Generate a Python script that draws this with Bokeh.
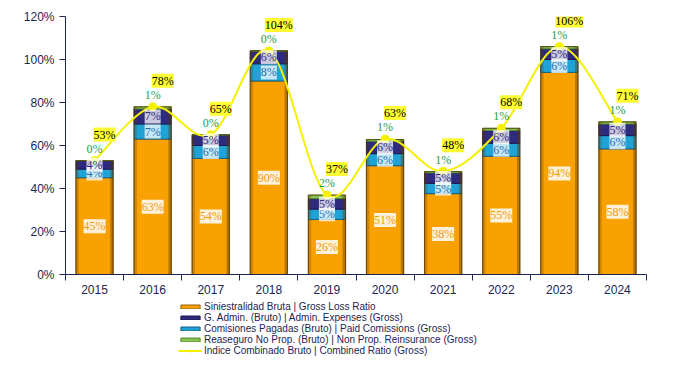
from bokeh.plotting import figure
from bokeh.layouts import column
from bokeh.models import (ColumnDataSource, Range1d, FixedTicker, LabelSet,
                          Legend, LegendItem, PrintfTickFormatter)
from bokeh.transform import dodge
from bokeh.embed import file_html
from bokeh.resources import INLINE

years = ["2015", "2016", "2017", "2018", "2019", "2020", "2021", "2022", "2023", "2024"]
loss = [45.0, 63.0, 54.0, 90.0, 25.6, 50.6, 37.6, 55.0, 94.0, 58.4]
commissions = [4.0, 7.0, 6.0, 8.0, 4.8, 5.6, 4.8, 6.0, 6.0, 6.2]
admin = [4.0, 7.0, 5.0, 6.0, 4.9, 5.8, 4.9, 6.0, 5.0, 5.4]
reinsurance = [0.0, 1.0, 0.0, 0.0, 1.6, 0.8, 0.6, 1.0, 1.0, 1.0]
combined = [53, 78, 65, 104, 37, 63, 48, 68, 106, 71]
y_ticks = [0, 20, 40, 60, 80, 100, 120]
legend_labels = [
    "Siniestralidad Bruta | Gross Loss Ratio",
    "G. Admin. (Bruto) | Admin. Expenses (Gross)",
    "Comisiones Pagadas (Bruto) | Paid Comissions (Gross)",
    "Reaseguro No Prop. (Bruto) | Non Prop. Reinsurance (Gross)",
    "Indice Combinado Bruto | Combined Ratio (Gross)",
]

FONT = "Liberation Sans"
NAVY = "#1B2552"
C_LOSS = "#F9A100"
C_ADMIN = "#2E2A7E"
C_COMM = "#1FA3D6"
C_REIN = "#86C34F"
C_LINE = "#F4F000"
E_LOSS, E_COMM, E_ADMIN, E_REIN = "#9A6200", "#14608A", "#1A184F", "#5A8A30"

n = len(years)
xs = list(range(n))
s1 = [l + c for l, c in zip(loss, commissions)]
s2 = [a + b for a, b in zip(s1, admin)]
s3 = [a + b for a, b in zip(s2, reinsurance)]

src = ColumnDataSource(dict(
    x=xs, loss=loss, comm=commissions, admin=admin, rein=reinsurance,
    b0=[0] * n, s1=s1, s2=s2, s3=s3,
    loss_mid=[v / 2 for v in loss],
    comm_mid=[(a + b) / 2 for a, b in zip(loss, s1)],
    admin_mid=[(a + b) / 2 for a, b in zip(s1, s2)],
    loss_lbl=[f"{round(v)}%" for v in loss],
    comm_lbl=[f"{round(v)}%" for v in commissions],
    admin_lbl=[f"{round(v)}%" for v in admin],
    rein_lbl=[f"{round(v)}%" for v in reinsurance],
    comb=combined,
    comb_lbl=[f"{v}%" for v in combined],
))

p = figure(width=690, height=302, output_backend="svg", toolbar_location=None,
           x_range=Range1d(-0.5, n - 0.5), y_range=Range1d(0, 120),
           min_border_left=65, min_border_right=44, min_border_top=16,
           min_border_bottom=28)
p.outline_line_color = None
p.grid.grid_line_color = None
p.background_fill_color = "white"

W = 0.64
p.vbar(x="x", bottom="b0", top="loss", width=W, source=src,
       fill_color=C_LOSS, line_color=E_LOSS, line_width=1)
p.vbar(x="x", bottom="loss", top="s1", width=W, source=src,
       fill_color=C_COMM, line_color=E_COMM, line_width=1)
p.vbar(x="x", bottom="s1", top="s2", width=W, source=src,
       fill_color=C_ADMIN, line_color=E_ADMIN, line_width=1)
p.vbar(x="x", bottom="s2", top="s3", width=W, source=src,
       fill_color=C_REIN, line_color=E_REIN, line_width=1)
# bevel-like shading on bar edges
EW = 0.05
p.vbar(x=dodge("x", -(W / 2 - EW / 2), range=p.x_range), bottom="b0", top="s3",
       width=EW, source=src, fill_color="#5A3A00", fill_alpha=0.25, line_color=None)
p.vbar(x=dodge("x", (W / 2 - EW / 2), range=p.x_range), bottom="b0", top="s3",
       width=EW, source=src, fill_color="#5A3A00", fill_alpha=0.4, line_color=None)
p.vbar(x="x", bottom="b0", top="s3", width=W, source=src, fill_color=None,
       line_color="#5A3A00", line_width=1.2, line_alpha=0.6)

# smoothed combined-ratio line (bezier segments through the data points)
bx0, by0, bx1, by1, cx0, cy0, cx1, cy1 = [], [], [], [], [], [], [], []
for i in range(n - 1):
    xp = xs[i - 1] if i > 0 else xs[i]
    yp = combined[i - 1] if i > 0 else combined[i]
    xn = xs[i + 2] if i + 2 < n else xs[i + 1]
    yn = combined[i + 2] if i + 2 < n else combined[i + 1]
    bx0.append(xs[i]); by0.append(combined[i])
    bx1.append(xs[i + 1]); by1.append(combined[i + 1])
    cx0.append(xs[i] + (xs[i + 1] - xp) / 6); cy0.append(combined[i] + (combined[i + 1] - yp) / 6)
    cx1.append(xs[i + 1] - (xn - xs[i]) / 6); cy1.append(combined[i + 1] - (yn - combined[i]) / 6)
p.bezier(x0=bx0, y0=by0, x1=bx1, y1=by1, cx0=cx0, cy0=cy0, cx1=cx1, cy1=cy1,
         line_color=C_LINE, line_width=2)
p.scatter(x="x", y="comb", source=src, size=8, fill_color=C_LINE, line_color=C_LINE)

lbl_common = dict(text_font=FONT, text_font_size="12px", text_align="center",
                  text_baseline="middle", source=src)
p.add_layout(LabelSet(x="x", y="loss_mid", text="loss_lbl", text_color="#F09A10",
                      background_fill_color="white", background_fill_alpha=0.85,
                      **lbl_common))
p.add_layout(LabelSet(x="x", y="comm_mid", text="comm_lbl", text_color="#1F6CB0",
                      background_fill_color="white", background_fill_alpha=0.75,
                      **lbl_common))
p.add_layout(LabelSet(x="x", y="admin_mid", text="admin_lbl", text_color="#2E2A7E",
                      background_fill_color="white", background_fill_alpha=0.75,
                      **lbl_common))
p.add_layout(LabelSet(x="x", y="s3", text="rein_lbl", text_color="#1E9E4A",
                      y_offset=12, **lbl_common))
p.add_layout(LabelSet(x="x", y="comb", text="comb_lbl", text_color="black",
                      background_fill_color="#FFFF33", background_fill_alpha=1.0,
                      x_offset=10, y_offset=26, **lbl_common))

# axes
p.xaxis.ticker = FixedTicker(ticks=xs, minor_ticks=[i - 0.5 for i in range(n + 1)])
p.xaxis.major_label_overrides = {i: y for i, y in enumerate(years)}
p.xaxis.major_tick_line_color = None
p.xaxis.minor_tick_out = 6
p.xaxis.minor_tick_in = 0
p.xaxis.minor_tick_line_color = NAVY
p.xaxis.axis_line_color = NAVY
p.xaxis.major_label_standoff = 4
p.yaxis.ticker = FixedTicker(ticks=y_ticks)
p.yaxis.formatter = PrintfTickFormatter(format="%d%%")
p.yaxis.major_tick_out = 6
p.yaxis.major_tick_in = 0
p.yaxis.minor_tick_line_color = None
p.yaxis.axis_line_color = NAVY
p.yaxis.major_tick_line_color = NAVY
for ax in (p.xaxis, p.yaxis):
    ax.major_label_text_font = FONT
    ax.major_label_text_font_size = "12px"
    ax.major_label_text_color = NAVY

# legend panel (separate strip under the chart; its frame aligns with the chart frame)
LH = 60
p2 = figure(width=690, height=LH, output_backend="svg", toolbar_location=None,
            x_range=Range1d(0, 10), y_range=Range1d(0, 10),
            x_axis_type=None, y_axis_type=None, min_border=0)
p2.outline_line_color = None
p2.grid.grid_line_color = None
off = dict(x=[-100], bottom=[-100], top=[-99], width=1)
d_loss = p2.vbar(**off, fill_color=C_LOSS, line_color=E_LOSS)
d_admin = p2.vbar(**off, fill_color=C_ADMIN, line_color=E_ADMIN)
d_comm = p2.vbar(**off, fill_color=C_COMM, line_color=E_COMM)
d_rein = p2.vbar(**off, fill_color=C_REIN, line_color=E_REIN)
d_line = p2.line(x=[-100, -99], y=[-100, -100], line_color=C_LINE, line_width=2)
d_pts = p2.scatter(x=[-100], y=[-100], size=8, fill_color=C_LINE, line_color=C_LINE)
rens = [[d_loss], [d_admin], [d_comm], [d_rein], [d_line, d_pts]]
row_bottoms = [50, 39, 28, 17, 6]
for lab, rr, yb in zip(legend_labels, rens, row_bottoms):
    lg = Legend(items=[LegendItem(label=lab, renderers=rr)], location=(113, yb),
                label_text_font=FONT, label_text_font_size="10px",
                label_text_color=NAVY, label_height=9, glyph_height=5,
                glyph_width=24, spacing=0, padding=0, margin=0,
                label_standoff=2, border_line_color=None,
                background_fill_alpha=0)
    p2.add_layout(lg, "center")

layout = column(p, p2, spacing=0)
open("out.html", "w").write(file_html(layout, INLINE))
